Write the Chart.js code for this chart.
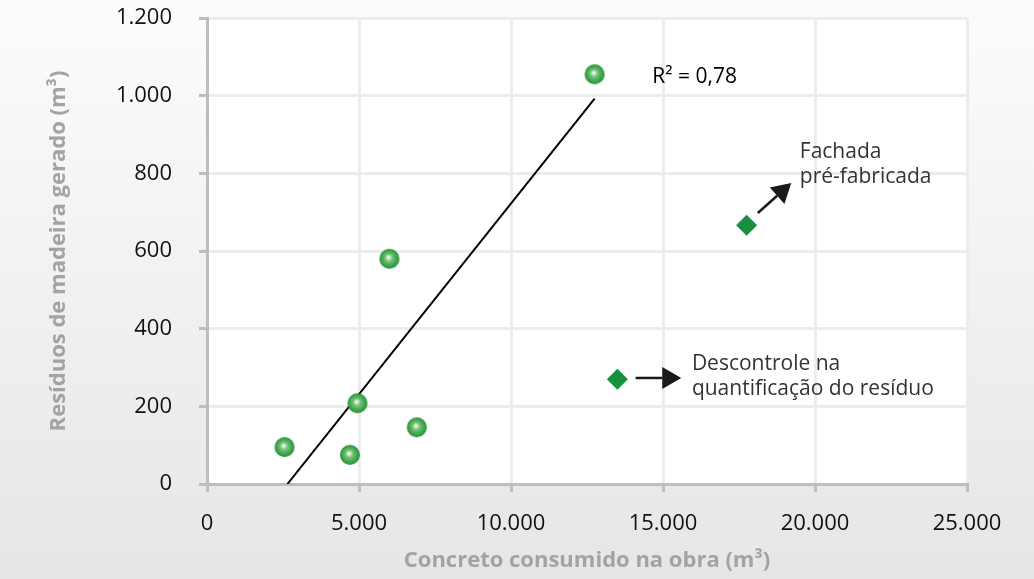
<!DOCTYPE html>
<html>
<head>
<meta charset="utf-8">
<script src="https://cdn.jsdelivr.net/npm/chart.js@4/dist/chart.umd.min.js"></script>
<style>
  html, body { margin: 0; padding: 0; }
  body { width: 1034px; height: 579px; background: linear-gradient(#fcfcfc, #e5e6e7); }
  canvas { display: block; }
</style>
</head>
<body>
<canvas id="chart" width="1034" height="579"></canvas>
<script>
// data
const concreto = [2550, 4700, 4950, 6000, 6900, 12750];
const residuos = [95, 75, 208, 580, 146, 1055];
const outlierConcreto = [13500, 17750];
const outlierResiduos = [270, 666];
const xTicks = [0, 5000, 10000, 15000, 20000, 25000];
const yTicks = [0, 200, 400, 600, 800, 1000, 1200];

const fmt = v => String(v).replace(/\B(?=(\d{3})+(?!\d))/g, '.');

// least squares trend line over the circle points
const n = concreto.length;
const mx = concreto.reduce((a, b) => a + b, 0) / n;
const my = residuos.reduce((a, b) => a + b, 0) / n;
let sxy = 0, sxx = 0;
concreto.forEach((x, i) => { sxy += (x - mx) * (residuos[i] - my); sxx += (x - mx) ** 2; });
const slope = sxy / sxx;
const inter = my - slope * mx;
const xStart = -inter / slope;
const xEnd = Math.max(...concreto);
const trend = [{ x: xStart, y: 0 }, { x: xEnd, y: slope * xEnd + inter }];

// shaded green ball used as point style
const ball = document.createElement('canvas');
ball.width = 22; ball.height = 22;
(() => {
  const c = ball.getContext('2d');
  const g = c.createRadialGradient(10, 9.5, 0.3, 11, 11, 10.5);
  g.addColorStop(0, '#f6fcf6');
  g.addColorStop(0.1, '#d2ead2');
  g.addColorStop(0.35, '#70c073');
  g.addColorStop(0.7, '#40a64c');
  g.addColorStop(1, '#23893a');
  c.fillStyle = g;
  c.beginPath();
  c.arc(11, 11, 10, 0, Math.PI * 2);
  c.fill();
})();

const notes = [
  { x: 14650, y: 1048, color: '#000', lines: ['R² = 0,78'] },
  { x: 15950, y: 309, color: '#333', lines: ['Descontrole na', 'quantificação do resíduo'] },
  { x: 19500, y: 855, color: '#333', lines: ['Fachada', 'pré-fabricada'] }
];
const arrows = [
  { from: [14100, 273], to: [15600, 273] },
  { from: [18120, 698], to: [19220, 775] }
];

const plotBg = {
  id: 'plotBg',
  beforeDraw(chart) {
    const { ctx, chartArea: a } = chart;
    ctx.save();
    ctx.fillStyle = '#ffffff';
    ctx.fillRect(a.left, a.top, a.right - a.left, a.bottom - a.top);
    ctx.restore();
  }
};

const notesPlugin = {
  id: 'notes',
  afterDatasetsDraw(chart) {
    const { ctx, scales: { x, y } } = chart;
    ctx.save();
    ctx.font = '21px "Open Sans"';
    ctx.textBaseline = 'middle';
    ctx.textAlign = 'left';
    notes.forEach(nt => {
      ctx.fillStyle = nt.color;
      const px = x.getPixelForValue(nt.x);
      const py = y.getPixelForValue(nt.y);
      nt.lines.forEach((t, i) => ctx.fillText(t, px, py + i * 25));
    });
    ctx.strokeStyle = '#1a1a1a';
    ctx.fillStyle = '#1a1a1a';
    ctx.lineWidth = 2.5;
    arrows.forEach(ar => {
      const x0 = x.getPixelForValue(ar.from[0]), y0 = y.getPixelForValue(ar.from[1]);
      const x1 = x.getPixelForValue(ar.to[0]), y1 = y.getPixelForValue(ar.to[1]);
      const ang = Math.atan2(y1 - y0, x1 - x0);
      const hl = 19, hw = 11;
      const bx = x1 - hl * Math.cos(ang), by = y1 - hl * Math.sin(ang);
      ctx.beginPath();
      ctx.moveTo(x0, y0);
      ctx.lineTo(bx, by);
      ctx.stroke();
      ctx.beginPath();
      ctx.moveTo(x1, y1);
      ctx.lineTo(bx + hw * Math.sin(ang), by - hw * Math.cos(ang));
      ctx.lineTo(bx - hw * Math.sin(ang), by + hw * Math.cos(ang));
      ctx.closePath();
      ctx.fill();
    });
    ctx.restore();
  }
};

new Chart(document.getElementById('chart'), {
  type: 'scatter',
  data: {
    datasets: [
      {
        label: 'Obras',
        data: concreto.map((x, i) => ({ x, y: residuos[i] })),
        pointStyle: ball,
        pointRadius: 10,
        order: 1
      },
      {
        label: 'Outliers',
        data: outlierConcreto.map((x, i) => ({ x, y: outlierResiduos[i] })),
        pointStyle: 'rectRot',
        pointRadius: 10.5,
        backgroundColor: '#17903f',
        borderWidth: 0,
        order: 1
      },
      {
        label: 'Tendência',
        data: trend,
        showLine: true,
        pointRadius: 0,
        borderColor: '#000000',
        borderWidth: 2,
        order: 3
      }
    ]
  },
  options: {
    responsive: false,
    animation: false,
    devicePixelRatio: 1,
    layout: { padding: { left: 0, top: 18, right: 67, bottom: 0 } },
    plugins: { legend: { display: false }, tooltip: { enabled: false } },
    scales: {
      x: {
        type: 'linear',
        min: 0, max: 25000,
        afterBuildTicks: s => { s.ticks = xTicks.map(v => ({ value: v })); },
        afterFit: s => { s.height = 95; s.paddingLeft = 0; s.paddingRight = 0; },
        grid: { color: '#ececec', lineWidth: 3, tickColor: '#bdbdbd', tickLength: 8, tickWidth: 3 },
        border: { color: '#bdbdbd', width: 3 },
        ticks: {
          padding: 19,
          color: '#111',
          font: { family: '"Open Sans"', size: 22 },
          callback: v => fmt(v)
        },
        title: {
          display: true,
          text: 'Concreto consumido na obra (m³)',
          color: '#a3a3a3',
          font: { family: '"Open Sans"', size: 22, weight: 'bold' },
          padding: { top: 0, bottom: 5 }
        }
      },
      y: {
        type: 'linear',
        min: 0, max: 1200,
        afterBuildTicks: s => { s.ticks = yTicks.map(v => ({ value: v })); },
        afterFit: s => { s.width = 207; s.paddingTop = 0; s.paddingBottom = 0; },
        grid: { color: '#ececec', lineWidth: 3, tickColor: '#bdbdbd', tickLength: 8, tickWidth: 3 },
        border: { color: '#bdbdbd', width: 3 },
        ticks: {
          padding: 27,
          color: '#111',
          font: { family: '"Open Sans"', size: 22 },
          callback: v => fmt(v)
        },
        title: {
          display: true,
          text: 'Resíduos de madeira gerado (m³)',
          color: '#a3a3a3',
          font: { family: '"Open Sans"', size: 22, weight: 'bold' },
          padding: { top: 46, bottom: 0 }
        }
      }
    }
  },
  plugins: [plotBg, notesPlugin]
});
</script>
</body>
</html>
